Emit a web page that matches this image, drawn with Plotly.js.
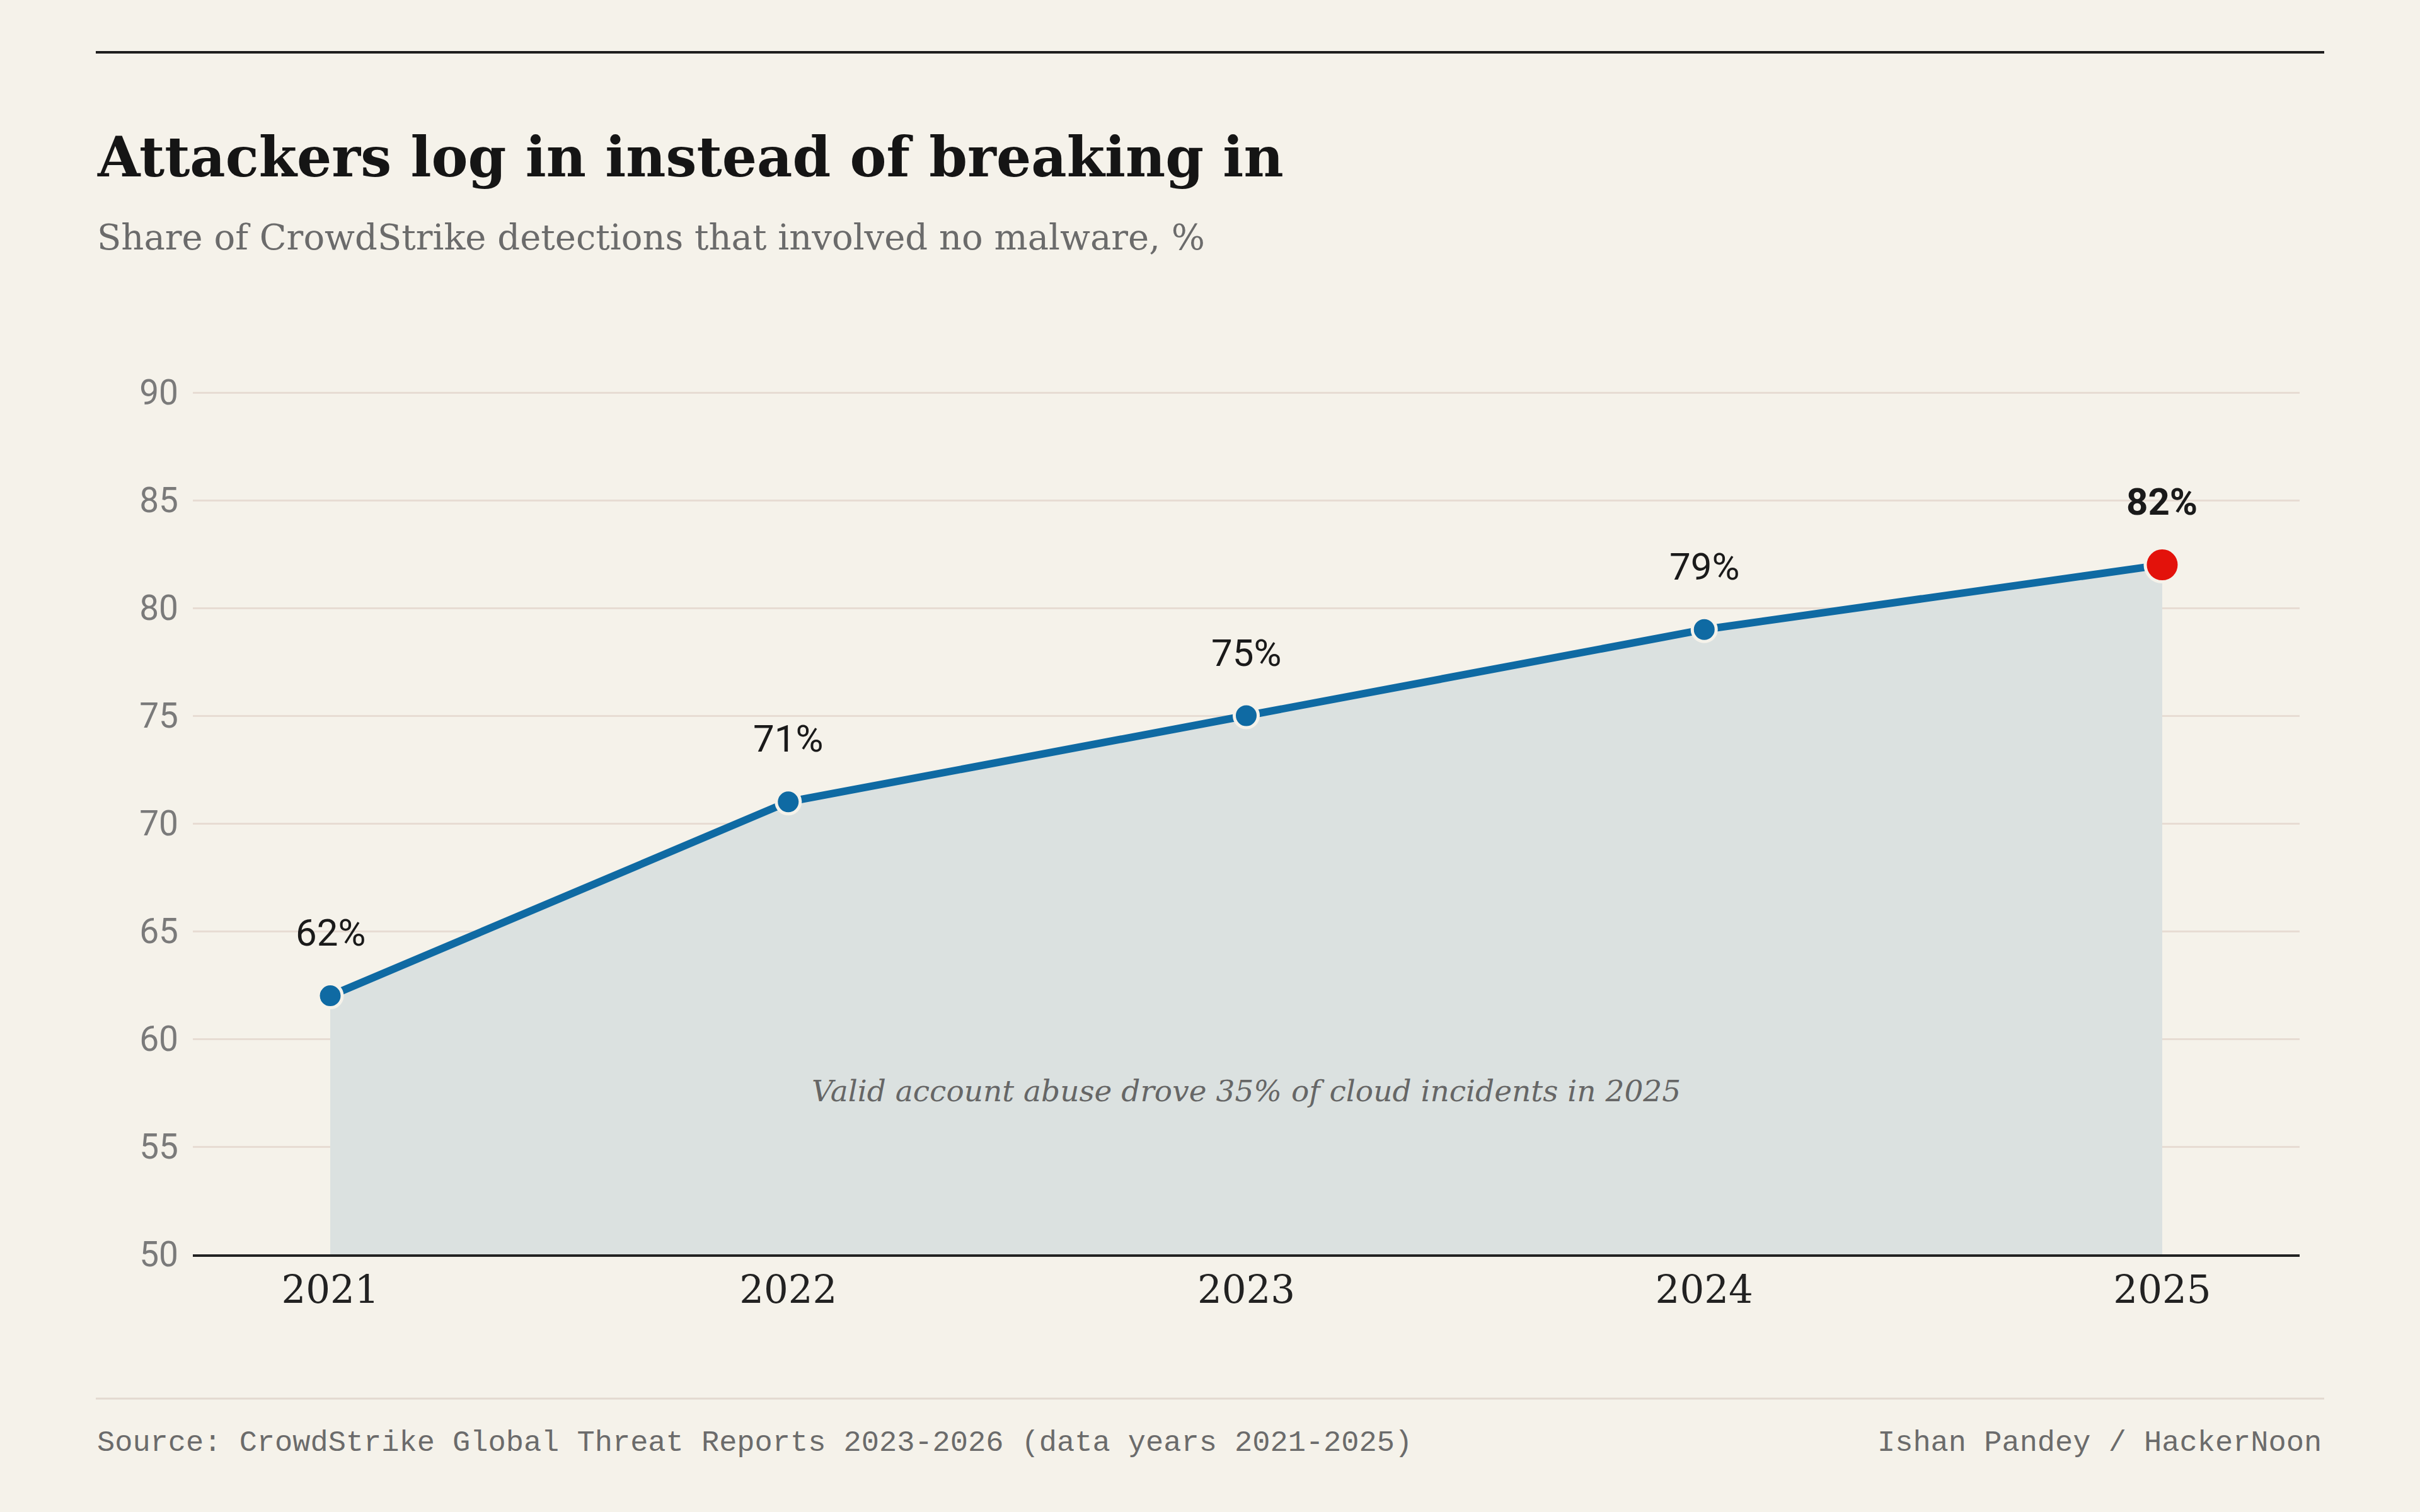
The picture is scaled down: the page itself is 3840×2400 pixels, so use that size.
<!DOCTYPE html>
<html>
<head>
<meta charset="utf-8">
<script src="https://cdn.plot.ly/plotly-3.0.1.min.js"></script>
<style>
  html, body { margin: 0; padding: 0; background: #f5f2ea; }
  #chart { width: 3840px; height: 2400px; }
</style>
</head>
<body>
<div id="chart"></div>
<script>
// ---- data ----
const years = [2021, 2022, 2023, 2024, 2025];
const yearLabels = ["2021", "2022", "2023", "2024", "2025"];
const malwareFreeShare = [62, 71, 75, 79, 82];
const valueLabels = ["62%", "71%", "75%", "79%", "82%"];
const yTicks = [50, 55, 60, 65, 70, 75, 80, 85, 90];

const titleText = "Attackers log in instead of breaking in";
const subtitleText = "Share of CrowdStrike detections that involved no malware, %";
const noteText = "Valid account abuse drove 35% of cloud incidents in 2025";
const sourceText = "Source: CrowdStrike Global Threat Reports 2023-2026 (data years 2021-2025)";
const creditText = "Ishan Pandey / HackerNoon";

// ---- styling ----
const BG = "#f5f2ea";
const BLUE = "#0f6aa3";
const RED = "#e3120b";
const FILL = "#dbe1e0";
const SERIF = "'DejaVu Serif', serif";

const W = 3840, H = 2400;
const L = 306, R = 3840 - 3649, T = 622, B = 2400 - 1991;
const PW = W - L - R, PH = H - T - B;
const px2x = px => (px - L) / PW;
const py2y = py => (H - B - py) / PH;

const last = years.length - 1;
const markerColors = years.map((_, i) => i === last ? RED : BLUE);
const markerSizes = years.map((_, i) => i === last ? 54 : 38);

const trace = {
  x: years,
  y: malwareFreeShare,
  type: "scatter",
  mode: "lines+markers",
  fill: "tozeroy",
  fillcolor: FILL,
  line: { color: BLUE, width: 12 },
  marker: { color: markerColors, size: markerSizes, opacity: 1, line: { color: BG, width: 5 } },
  hoverinfo: "skip",
  showlegend: false
};

const labelAnnotations = years.map((yr, i) => ({
  x: yr, y: malwareFreeShare[i], xref: "x", yref: "y",
  text: i === last ? "<b>" + valueLabels[i] + "</b>" : valueLabels[i],
  showarrow: false, yshift: 100, xanchor: "center", yanchor: "middle",
  font: { family: "Roboto, 'Open Sans', sans-serif", size: 60, color: "#1a1a1a" }
}));

const annotations = labelAnnotations.concat([
  {
    text: "<b>" + titleText + "</b>", xref: "paper", yref: "paper",
    x: px2x(152), y: py2y(250), xanchor: "left", yanchor: "middle", showarrow: false,
    font: { family: SERIF, size: 87, color: "#151515" }
  },
  {
    text: subtitleText, xref: "paper", yref: "paper",
    x: px2x(152), y: py2y(376), xanchor: "left", yanchor: "middle", showarrow: false,
    font: { family: SERIF, size: 56, color: "#6b6b6b" }
  },
  {
    text: "<i>" + noteText + "</i>", xref: "x", yref: "y",
    x: years[2], y: 57.6, xanchor: "center", yanchor: "middle", showarrow: false,
    font: { family: SERIF, size: 47, color: "#666666" }
  },
  {
    text: sourceText, xref: "paper", yref: "paper",
    x: px2x(152), y: py2y(2290), xanchor: "left", yanchor: "middle", showarrow: false,
    font: { family: "'Liberation Mono', 'DejaVu Sans Mono', monospace", size: 47, color: "#6b6b6b" }
  },
  {
    text: creditText, xref: "paper", yref: "paper",
    x: px2x(3686), y: py2y(2290), xanchor: "right", yanchor: "middle", showarrow: false,
    font: { family: "'Liberation Mono', 'DejaVu Sans Mono', monospace", size: 47, color: "#6b6b6b" }
  }
]);

const layout = {
  width: W, height: H,
  paper_bgcolor: BG, plot_bgcolor: BG,
  margin: { l: L, r: R, t: T, b: B, pad: 0 },
  showlegend: false,
  xaxis: {
    range: [2020.7, 2025.3],
    tickvals: years, ticktext: yearLabels,
    showgrid: false, zeroline: false,
    showline: true, linecolor: "#222222", linewidth: 4,
    ticks: "", ticklabelstandoff: 0,
    tickfont: { family: SERIF, size: 61, color: "#222222" },
    fixedrange: true
  },
  yaxis: {
    range: [50, 90.03],
    tickvals: yTicks,
    showgrid: true, gridcolor: "#e7dcd3", gridwidth: 3,
    zeroline: false, showline: false,
    ticks: "", ticklabelstandoff: 22,
    tickfont: { family: "Roboto, 'Open Sans', sans-serif", size: 55, color: "#7a7a7a" },
    fixedrange: true
  },
  shapes: [
    { type: "line", xref: "paper", yref: "paper", x0: px2x(152), x1: px2x(3688), y0: py2y(83), y1: py2y(83),
      line: { color: "#1e1e1e", width: 4 } },
    { type: "line", xref: "paper", yref: "paper", x0: px2x(152), x1: px2x(3688), y0: py2y(2220), y1: py2y(2220),
      line: { color: "#e3d9d0", width: 3 } }
  ],
  annotations: annotations
};

Plotly.newPlot("chart", [trace], layout, { displayModeBar: false, staticPlot: true });
</script>
</body>
</html>
